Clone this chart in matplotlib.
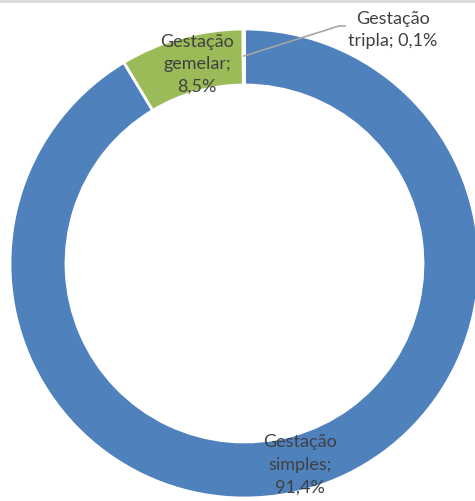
import matplotlib
matplotlib.use("Agg")
import matplotlib.pyplot as plt

labels = ["Gestação\nsimples;\n91,4%", "Gestação\ngemelar;\n8,5%", "Gestação\ntripla; 0,1%"]
values = [91.4, 8.5, 0.1]
colors = ["#4F81BD", "#9BBB59", "#C0504D"]
TXT = "#404040"

W, H = 475, 501
fig = plt.figure(figsize=(W / 100, H / 100), dpi=100)
ax = fig.add_axes([0, 0, 1, 1])

cx, cy, R = 244.5, H - 263.5, 234.5
ax.pie(values, colors=colors, startangle=90, counterclock=False,
       center=(cx, cy), radius=R, frame=True,
       wedgeprops=dict(width=56, edgecolor="white", linewidth=2))
ax.set_xlim(0, W); ax.set_ylim(0, H); ax.axis("off")

fs = 13
ax.text(300, H - 465, labels[0], ha="center", va="center", fontsize=fs,
        color=TXT, family="Lato", linespacing=1.5)
ax.text(197, H - 64, labels[1], ha="center", va="center", fontsize=fs,
        color=TXT, family="Lato", linespacing=1.5)
ax.text(393, H - 30, labels[2], ha="center", va="center", fontsize=fs,
        color=TXT, family="Lato", linespacing=1.5)

# leader line for the tiny slice
ax.plot([244, 339, 345], [H - 56, H - 26, H - 26], color="#A6A6A6", lw=1.2)

# thin frame line at the top
ax.plot([0, W], [H - 0.8, H - 0.8], color="#D9D9D9", lw=2, clip_on=False)

fig.savefig("out.png", facecolor="white")
